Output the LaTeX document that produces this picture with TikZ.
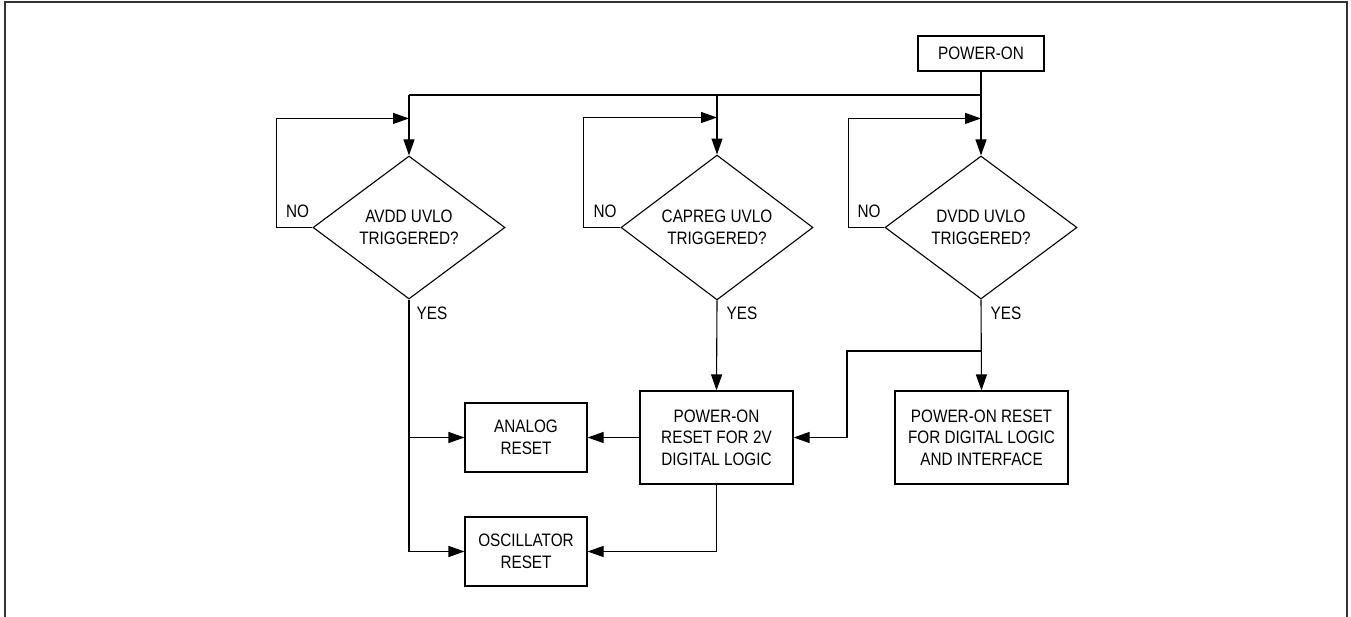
\documentclass[tikz,border=0pt]{standalone}
\usepackage{fontspec}
\setmainfont{Liberation Sans}[FakeStretch=0.85]
\usetikzlibrary{arrows.meta,shapes.geometric,calc}
\tikzset{
  box/.style={draw, line width=1.1pt, inner sep=0pt, align=center, font=\fontsize{18}{21.6}\selectfont},
  dia/.style={draw, diamond, line width=1.1pt, inner sep=0pt, minimum width=192pt, minimum height=143pt, align=center, font=\fontsize{18}{21.6}\selectfont},
  lbl/.style={inner sep=0pt, font=\fontsize{18}{21.6}\selectfont},
  wire/.style={line width=1.1pt},
  arr/.style={line width=1.1pt, -{Triangle[length=16pt,width=11pt]}},
}
\begin{document}
\begin{tikzpicture}[x=1pt,y=-1pt]
\useasboundingbox (0,0) rectangle (1351,617);
\draw[line width=2pt, draw=black!80] (5,617) -- (5,2) -- (1347,2) -- (1347,617);

\node[box, minimum width=126pt, minimum height=35pt] (pwr) at (981,53.5) {POWER-ON};
\node[dia] (avdd) at (409,227.5) {AVDD UVLO\\TRIGGERED?};
\node[dia] (capreg) at (717,227.5) {CAPREG UVLO\\TRIGGERED?};
\node[dia] (dvdd) at (981,227.5) {DVDD UVLO\\TRIGGERED?};

\node[box, minimum width=122pt, minimum height=69pt] (ana) at (526,437.5) {ANALOG\\RESET};
\node[box, minimum width=122pt, minimum height=69pt] (osc) at (526,551.5) {OSCILLATOR\\RESET};
\node[box, minimum width=153pt, minimum height=93pt] (por2) at (716.5,437.5) {POWER-ON\\RESET FOR 2V\\DIGITAL LOGIC};
\node[box, minimum width=173pt, minimum height=93pt] (pordl) at (981.5,437.5) {POWER-ON RESET\\FOR DIGITAL LOGIC\\AND INTERFACE};

\coordinate (busL) at (409,95);
\coordinate (jn) at (847,351);

% power-on bus
\draw[arr] (pwr) -- (dvdd);
\draw[wire] (busL) -- (pwr.south |- busL);
\draw[arr] (busL) -- (avdd.north);
\draw[arr] (capreg.north |- busL) -- (capreg.north);

% NO loops
\draw[arr] (avdd.west) -- ++(-36,0) |- ($(avdd.north)+(0,-37)$);
\draw[arr] (capreg.west) -- ++(-37,0) |- ($(capreg.north)+(0,-37)$);
\draw[arr] (dvdd.west) -- ++(-36,0) |- ($(dvdd.north)+(0,-37)$);

\node[lbl] (no1) at (297.5,211) {NO};
\node[lbl] (no2) at (605,211) {NO};
\node[lbl] (no3) at (869,211) {NO};
\node[lbl] (yes1) at (432,313) {YES};
\node[lbl] (yes2) at (742,313) {YES};
\node[lbl] (yes3) at (1006,313) {YES};

% YES paths
\draw[arr] (avdd.south) |- (osc.west);
\draw[arr] (avdd.south |- ana.west) -- (ana.west);
\draw[arr] (capreg.south) -- (por2.north);
\draw[arr] (por2.west) -- (ana.east);
\draw[arr] (por2.south) |- (osc.east);
\draw[arr] (dvdd.south) -- (pordl.north);
\draw[arr] (dvdd.south |- jn) -- (jn) |- (por2.east);
\end{tikzpicture}
\end{document}
